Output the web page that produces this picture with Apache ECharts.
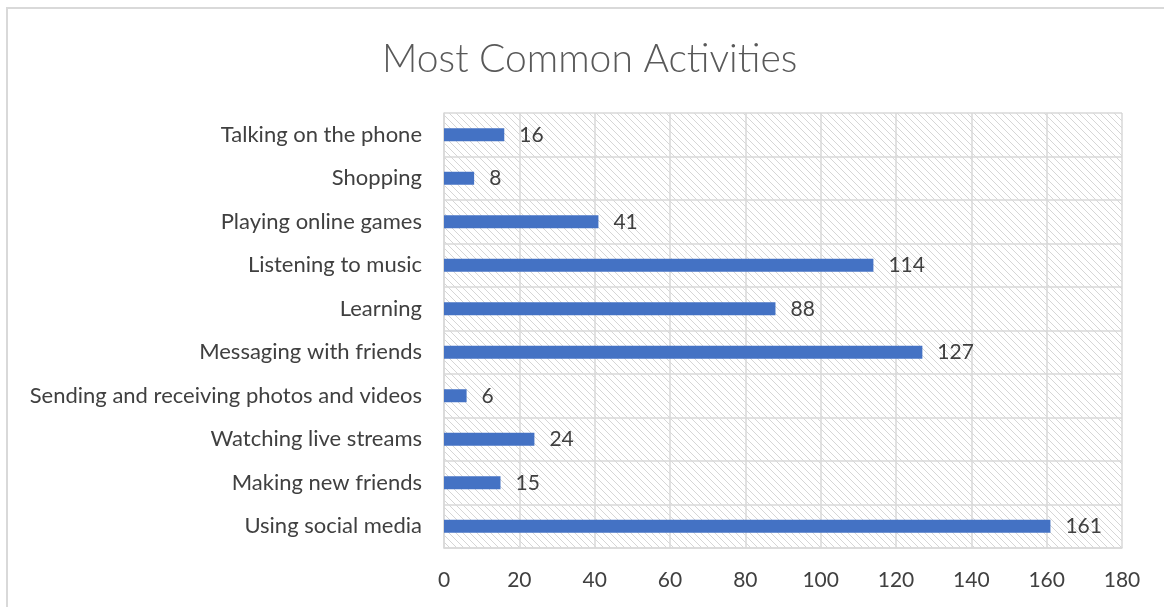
<!DOCTYPE html>
<html>
<head>
<meta charset="utf-8">
<script src="https://cdn.jsdelivr.net/npm/echarts@6/dist/echarts.min.js"></script>
<style>
  html, body { margin: 0; padding: 0; background: #fff; }
  #chart { width: 1164px; height: 607px; }
</style>
</head>
<body>
<div id="chart"></div>
<script>
// Activities, listed bottom to top as they appear on the vertical axis
const categories = [
  'Using social media',
  'Making new friends',
  'Watching live streams',
  'Sending and receiving photos and videos',
  'Messaging with friends',
  'Learning',
  'Listening to music',
  'Playing online games',
  'Shopping',
  'Talking on the phone'
];
const counts = [161, 15, 24, 6, 127, 88, 114, 41, 8, 16];
const xTicks = [0, 20, 40, 60, 80, 100, 120, 140, 160, 180];

// Light diagonal hatch used as the plot area fill
function hatchPattern() {
  const s = 7;
  const c = document.createElement('canvas');
  c.width = s; c.height = s;
  const g = c.getContext('2d');
  g.fillStyle = '#ffffff';
  g.fillRect(0, 0, s, s);
  g.strokeStyle = '#d6d6d6';
  g.lineWidth = 1;
  g.beginPath();
  g.moveTo(-1, -1); g.lineTo(s + 1, s + 1);
  g.moveTo(-1, s - 1); g.lineTo(1, s + 1);
  g.moveTo(s - 1, -1); g.lineTo(s + 1, 1);
  g.stroke();
  return c;
}

const textColor = '#404040';
const font = 'Lato, "Open Sans", sans-serif';

const chart = echarts.init(document.getElementById('chart'), null, { renderer: 'canvas' });
chart.setOption({
  backgroundColor: '#ffffff',
  animation: false,
  title: {
    text: 'Most Common Activities',
    left: 377,
    top: 35,
    textStyle: { fontFamily: font, fontWeight: 300, fontSize: 39, color: '#595959' }
  },
  graphic: [{
    type: 'rect',
    shape: { x: 7, y: 8, width: 1200, height: 700 },
    style: { fill: 'none', stroke: '#d9d9d9', lineWidth: 2 },
    silent: true,
    z: -1
  }],
  grid: {
    left: 444,
    right: 42,
    top: 113,
    bottom: 59,
    show: true,
    borderWidth: 0,
    backgroundColor: { image: hatchPattern(), repeat: 'repeat' }
  },
  xAxis: {
    type: 'value',
    min: xTicks[0],
    max: xTicks[xTicks.length - 1],
    interval: 20,
    axisLine: { show: true, lineStyle: { color: '#d9d9d9', width: 1.5 } },
    axisTick: { show: false },
    splitLine: { show: true, lineStyle: { color: '#d9d9d9', width: 1.5 } },
    axisLabel: { color: textColor, fontFamily: font, fontSize: 21, margin: 22 }
  },
  yAxis: {
    type: 'category',
    data: categories,
    axisLine: { show: true, lineStyle: { color: '#d9d9d9', width: 1.5 } },
    axisTick: { show: false },
    splitLine: { show: true, lineStyle: { color: '#d9d9d9', width: 1.5 } },
    axisLabel: { color: textColor, fontFamily: font, fontSize: 22, margin: 22 }
  },
  series: [{
    type: 'bar',
    data: counts,
    barWidth: 13,
    itemStyle: { color: '#4472C4' },
    label: {
      show: true,
      position: 'right',
      distance: 15,
      color: textColor,
      fontFamily: font,
      fontSize: 21
    }
  }]
});
</script>
</body>
</html>
